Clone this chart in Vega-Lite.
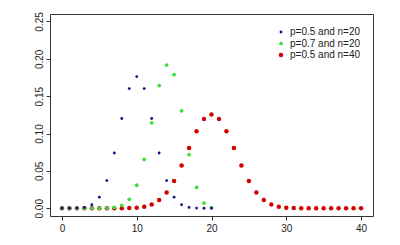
{
  "$schema": "https://vega.github.io/schema/vega-lite/v6.json",
  "width": 323,
  "height": 202,
  "autosize": {"type": "none"},
  "padding": {"left": 50, "top": 14, "right": 27, "bottom": 29},
  "background": "white",
  "data": {"values": [
    {"s": "p=0.5 and n=40", "k": 0, "p": 0},
    {"s": "p=0.5 and n=40", "k": 1, "p": 0},
    {"s": "p=0.5 and n=40", "k": 2, "p": 0},
    {"s": "p=0.5 and n=40", "k": 3, "p": 0},
    {"s": "p=0.5 and n=40", "k": 4, "p": 0},
    {"s": "p=0.5 and n=40", "k": 5, "p": 0},
    {"s": "p=0.5 and n=40", "k": 6, "p": 0.000003},
    {"s": "p=0.5 and n=40", "k": 7, "p": 0.000017},
    {"s": "p=0.5 and n=40", "k": 8, "p": 0.00007},
    {"s": "p=0.5 and n=40", "k": 9, "p": 0.00025},
    {"s": "p=0.5 and n=40", "k": 10, "p": 0.00077},
    {"s": "p=0.5 and n=40", "k": 11, "p": 0.0021},
    {"s": "p=0.5 and n=40", "k": 12, "p": 0.00508},
    {"s": "p=0.5 and n=40", "k": 13, "p": 0.01094},
    {"s": "p=0.5 and n=40", "k": 14, "p": 0.02111},
    {"s": "p=0.5 and n=40", "k": 15, "p": 0.03658},
    {"s": "p=0.5 and n=40", "k": 16, "p": 0.05716},
    {"s": "p=0.5 and n=40", "k": 17, "p": 0.0807},
    {"s": "p=0.5 and n=40", "k": 18, "p": 0.10312},
    {"s": "p=0.5 and n=40", "k": 19, "p": 0.1194},
    {"s": "p=0.5 and n=40", "k": 20, "p": 0.12537},
    {"s": "p=0.5 and n=40", "k": 21, "p": 0.1194},
    {"s": "p=0.5 and n=40", "k": 22, "p": 0.10312},
    {"s": "p=0.5 and n=40", "k": 23, "p": 0.0807},
    {"s": "p=0.5 and n=40", "k": 24, "p": 0.05716},
    {"s": "p=0.5 and n=40", "k": 25, "p": 0.03658},
    {"s": "p=0.5 and n=40", "k": 26, "p": 0.02111},
    {"s": "p=0.5 and n=40", "k": 27, "p": 0.01094},
    {"s": "p=0.5 and n=40", "k": 28, "p": 0.00508},
    {"s": "p=0.5 and n=40", "k": 29, "p": 0.0021},
    {"s": "p=0.5 and n=40", "k": 30, "p": 0.00077},
    {"s": "p=0.5 and n=40", "k": 31, "p": 0.00025},
    {"s": "p=0.5 and n=40", "k": 32, "p": 0.00007},
    {"s": "p=0.5 and n=40", "k": 33, "p": 0.000017},
    {"s": "p=0.5 and n=40", "k": 34, "p": 0.000003},
    {"s": "p=0.5 and n=40", "k": 35, "p": 0},
    {"s": "p=0.5 and n=40", "k": 36, "p": 0},
    {"s": "p=0.5 and n=40", "k": 37, "p": 0},
    {"s": "p=0.5 and n=40", "k": 38, "p": 0},
    {"s": "p=0.5 and n=40", "k": 39, "p": 0},
    {"s": "p=0.5 and n=40", "k": 40, "p": 0},
    {"s": "p=0.7 and n=20", "k": 0, "p": 0},
    {"s": "p=0.7 and n=20", "k": 1, "p": 0},
    {"s": "p=0.7 and n=20", "k": 2, "p": 0},
    {"s": "p=0.7 and n=20", "k": 3, "p": 0},
    {"s": "p=0.7 and n=20", "k": 4, "p": 0.000005},
    {"s": "p=0.7 and n=20", "k": 5, "p": 0.00004},
    {"s": "p=0.7 and n=20", "k": 6, "p": 0.00022},
    {"s": "p=0.7 and n=20", "k": 7, "p": 0.00102},
    {"s": "p=0.7 and n=20", "k": 8, "p": 0.00386},
    {"s": "p=0.7 and n=20", "k": 9, "p": 0.01198},
    {"s": "p=0.7 and n=20", "k": 10, "p": 0.03082},
    {"s": "p=0.7 and n=20", "k": 11, "p": 0.06537},
    {"s": "p=0.7 and n=20", "k": 12, "p": 0.1144},
    {"s": "p=0.7 and n=20", "k": 13, "p": 0.16426},
    {"s": "p=0.7 and n=20", "k": 14, "p": 0.19164},
    {"s": "p=0.7 and n=20", "k": 15, "p": 0.17886},
    {"s": "p=0.7 and n=20", "k": 16, "p": 0.13042},
    {"s": "p=0.7 and n=20", "k": 17, "p": 0.0716},
    {"s": "p=0.7 and n=20", "k": 18, "p": 0.02785},
    {"s": "p=0.7 and n=20", "k": 19, "p": 0.00684},
    {"s": "p=0.7 and n=20", "k": 20, "p": 0.0008},
    {"s": "p=0.5 and n=20", "k": 0, "p": 0},
    {"s": "p=0.5 and n=20", "k": 1, "p": 0.00002},
    {"s": "p=0.5 and n=20", "k": 2, "p": 0.00018},
    {"s": "p=0.5 and n=20", "k": 3, "p": 0.00109},
    {"s": "p=0.5 and n=20", "k": 4, "p": 0.00462},
    {"s": "p=0.5 and n=20", "k": 5, "p": 0.01479},
    {"s": "p=0.5 and n=20", "k": 6, "p": 0.03696},
    {"s": "p=0.5 and n=20", "k": 7, "p": 0.07393},
    {"s": "p=0.5 and n=20", "k": 8, "p": 0.12013},
    {"s": "p=0.5 and n=20", "k": 9, "p": 0.16018},
    {"s": "p=0.5 and n=20", "k": 10, "p": 0.1762},
    {"s": "p=0.5 and n=20", "k": 11, "p": 0.16018},
    {"s": "p=0.5 and n=20", "k": 12, "p": 0.12013},
    {"s": "p=0.5 and n=20", "k": 13, "p": 0.07393},
    {"s": "p=0.5 and n=20", "k": 14, "p": 0.03696},
    {"s": "p=0.5 and n=20", "k": 15, "p": 0.01479},
    {"s": "p=0.5 and n=20", "k": 16, "p": 0.00462},
    {"s": "p=0.5 and n=20", "k": 17, "p": 0.00109},
    {"s": "p=0.5 and n=20", "k": 18, "p": 0.00018},
    {"s": "p=0.5 and n=20", "k": 19, "p": 0.00002},
    {"s": "p=0.5 and n=20", "k": 20, "p": 0}
  ]},
  "mark": {"type": "point", "filled": true, "shape": "circle", "opacity": 1},
  "encoding": {
    "x": {"field": "k", "type": "quantitative",
          "scale": {"domain": [-1.6, 41.6], "nice": false, "zero": false},
          "axis": {"values": [0, 10, 20, 30, 40], "title": null, "labelPadding": 3}},
    "y": {"field": "p", "type": "quantitative",
          "scale": {"domain": [-0.0104, 0.26], "nice": false, "zero": false},
          "axis": {"values": [0, 0.05, 0.1, 0.15, 0.2, 0.25], "format": ".2f", "title": null,
                   "labelAngle": 270, "labelAlign": "center", "labelBaseline": "alphabetic", "labelPadding": 4}},
    "color": {"field": "s", "type": "nominal",
              "scale": {"domain": ["p=0.5 and n=20", "p=0.7 and n=20", "p=0.5 and n=40"],
                        "range": ["#10108a", "#3ae03a", "#d00000"]},
              "legend": {"title": null}},
    "size": {"field": "s", "type": "nominal",
             "scale": {"domain": ["p=0.5 and n=20", "p=0.7 and n=20", "p=0.5 and n=40"],
                       "range": [8, 20, 26]},
             "legend": {"title": null}}
  },
  "config": {
    "view": {"stroke": "#333", "strokeWidth": 1},
    "axis": {"domain": false, "grid": false, "tickColor": "#333", "tickSize": 4,
             "labelColor": "#222", "labelFont": "Liberation Sans", "labelFontSize": 10, "labelFlush": false, "labelOverlap": false},
    "legend": {"orient": "none", "legendX": 226, "legendY": 13, "padding": 0,
               "labelFont": "Liberation Sans", "labelFontSize": 10, "labelColor": "#222",
               "labelOffset": 4, "rowPadding": 1.5, "symbolType": "circle", "symbolStrokeWidth": 0}
  }
}
